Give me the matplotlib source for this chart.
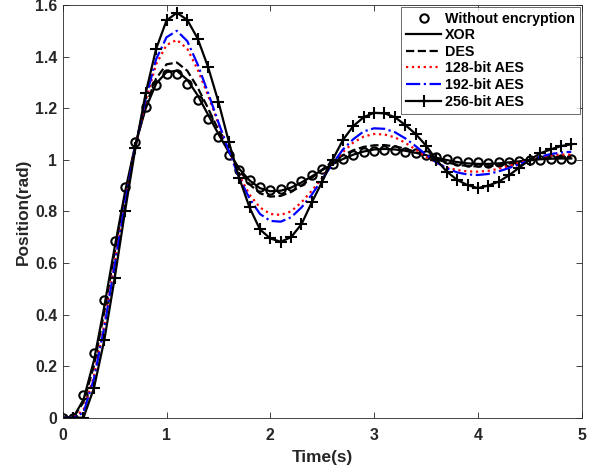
import matplotlib
matplotlib.use("Agg")
import matplotlib.pyplot as plt
import numpy as np

plt.rcParams['font.family'] = ['Liberation Sans', 'DejaVu Sans']
plt.rcParams['font.weight'] = 'bold'

time_s = [round(0.1 * i, 1) for i in range(50)]

without_enc = [0, 0.0, 0.09, 0.25, 0.455, 0.685, 0.895, 1.07, 1.205, 1.29,
               1.333, 1.332, 1.295, 1.232, 1.16, 1.088, 1.018, 0.96, 0.92, 0.894,
               0.884, 0.887, 0.899, 0.918, 0.94, 0.963, 0.985, 1.003, 1.018, 1.029,
               1.035, 1.038, 1.037, 1.032, 1.025, 1.017, 1.009, 1.002, 0.996, 0.992,
               0.99, 0.989, 0.99, 0.992, 0.995, 0.998, 1.0, 1.002, 1.003, 1.003]

xor_vals = [0, 0.0, 0.07, 0.22, 0.43, 0.66, 0.875, 1.06, 1.2, 1.295,
            1.34, 1.345, 1.31, 1.25, 1.175, 1.10, 1.03, 0.965, 0.92, 0.89,
            0.878, 0.88, 0.892, 0.912, 0.936, 0.96, 0.983, 1.003, 1.02, 1.032,
            1.04, 1.042, 1.04, 1.035, 1.027, 1.018, 1.008, 0.999, 0.991, 0.986,
            0.984, 0.984, 0.986, 0.99, 0.994, 0.998, 1.002, 1.004, 1.005, 1.005]

des_vals = [0, 0.0, 0.06, 0.2, 0.41, 0.64, 0.86, 1.055, 1.21, 1.315,
            1.37, 1.377, 1.345, 1.28, 1.2, 1.115, 1.035, 0.962, 0.905, 0.87,
            0.857, 0.86, 0.875, 0.9, 0.93, 0.962, 0.993, 1.018, 1.037, 1.05,
            1.056, 1.057, 1.052, 1.043, 1.03, 1.016, 1.002, 0.99, 0.981, 0.976,
            0.974, 0.975, 0.979, 0.985, 0.992, 0.999, 1.005, 1.009, 1.011, 1.011]

aes128_vals = [0, 0.0, 0.03, 0.16, 0.36, 0.6, 0.83, 1.05, 1.23, 1.37,
               1.445, 1.465, 1.43, 1.35, 1.25, 1.14, 1.035, 0.94, 0.865, 0.815,
               0.79, 0.786, 0.8, 0.835, 0.88, 0.93, 0.985, 1.03, 1.067, 1.09,
               1.1, 1.098, 1.087, 1.066, 1.04, 1.012, 0.987, 0.97, 0.96, 0.955,
               0.954, 0.957, 0.965, 0.976, 0.988, 1.0, 1.01, 1.017, 1.02, 1.02]

aes192_vals = [0, 0.0, 0.02, 0.15, 0.35, 0.59, 0.83, 1.05, 1.24, 1.39,
               1.475, 1.50, 1.46, 1.37, 1.26, 1.145, 1.035, 0.93, 0.85, 0.79,
               0.763, 0.76, 0.777, 0.815, 0.865, 0.925, 0.985, 1.04, 1.08, 1.11,
               1.122, 1.12, 1.107, 1.083, 1.053, 1.02, 0.99, 0.967, 0.951, 0.943,
               0.941, 0.945, 0.955, 0.968, 0.983, 0.998, 1.012, 1.022, 1.028, 1.031]

aes256_vals = [0, 0.0, 0.0, 0.114, 0.30, 0.54, 0.80, 1.045, 1.26, 1.43,
               1.54, 1.57, 1.542, 1.47, 1.36, 1.225, 1.07, 0.93, 0.815, 0.73,
               0.695, 0.682, 0.70, 0.75, 0.835, 0.915, 1.0, 1.077, 1.131, 1.165,
               1.182, 1.18, 1.165, 1.135, 1.10, 1.055, 1.0, 0.954, 0.922, 0.902,
               0.89, 0.90, 0.915, 0.94, 0.97, 1.0, 1.025, 1.04, 1.053, 1.06]

labels = ['Without encryption', 'XOR', 'DES', '128-bit AES', '192-bit AES', '256-bit AES']
x_ticks = [0, 1, 2, 3, 4, 5]
y_ticks = [0, 0.2, 0.4, 0.6, 0.8, 1, 1.2, 1.4, 1.6]
y_ticklabels = ['0', '0.2', '0.4', '0.6', '0.8', '1', '1.2', '1.4', '1.6']

fig = plt.figure(figsize=(5.98, 4.72), dpi=100)
ax = fig.add_axes([0.1049, 0.115, 0.8678, 0.8744])

lw = 1.6
ax.plot(time_s, without_enc, linestyle='none', marker='o', markersize=6,
        markerfacecolor='none', markeredgecolor='black', markeredgewidth=1.5, label=labels[0])
ax.plot(time_s, xor_vals, '-', color='black', linewidth=lw, label=labels[1])
ax.plot(time_s, des_vals, '--', color='black', linewidth=lw, label=labels[2])
ax.plot(time_s, aes128_vals, ':', color='red', linewidth=lw, label=labels[3])
ax.plot(time_s, aes192_vals, '-.', color='blue', linewidth=lw, label=labels[4])
ax.plot(time_s, aes256_vals, '-', color='black', linewidth=lw, marker='+', markersize=9,
        markeredgewidth=1.5, label=labels[5])

ax.set_xlim(0, 5)
ax.set_ylim(0, 1.6)
ax.set_xticks(x_ticks)
ax.set_yticks(y_ticks)
ax.set_yticklabels(y_ticklabels)
ax.tick_params(direction='in', top=True, right=True, length=4, width=0.6,
               color='#262626', labelsize=11.4)
ax.tick_params(axis='x', pad=7.5)
ax.tick_params(axis='y', pad=4)
for lab in ax.get_xticklabels() + ax.get_yticklabels():
    lab.set_fontweight('bold')
    lab.set_color('#262626')
for sp in ax.spines.values():
    sp.set_color('#262626')
    sp.set_linewidth(0.6)

ax.set_xlabel('Time(s)', fontsize=12.4, fontweight='bold', labelpad=5, color='#262626')
ax.set_ylabel('Position(rad)', fontsize=12.4, fontweight='bold', labelpad=3, color='#262626')

leg = ax.legend(loc='upper right', fontsize=10.3, frameon=True, fancybox=False,
                borderaxespad=0.12, handlelength=2.4, handletextpad=0.3,
                labelspacing=0.18, borderpad=0.35)
leg.get_frame().set_edgecolor('#262626')
leg.get_frame().set_linewidth(0.6)
for t in leg.get_texts():
    t.set_fontweight('bold')

fig.savefig('out.png', dpi=100)
